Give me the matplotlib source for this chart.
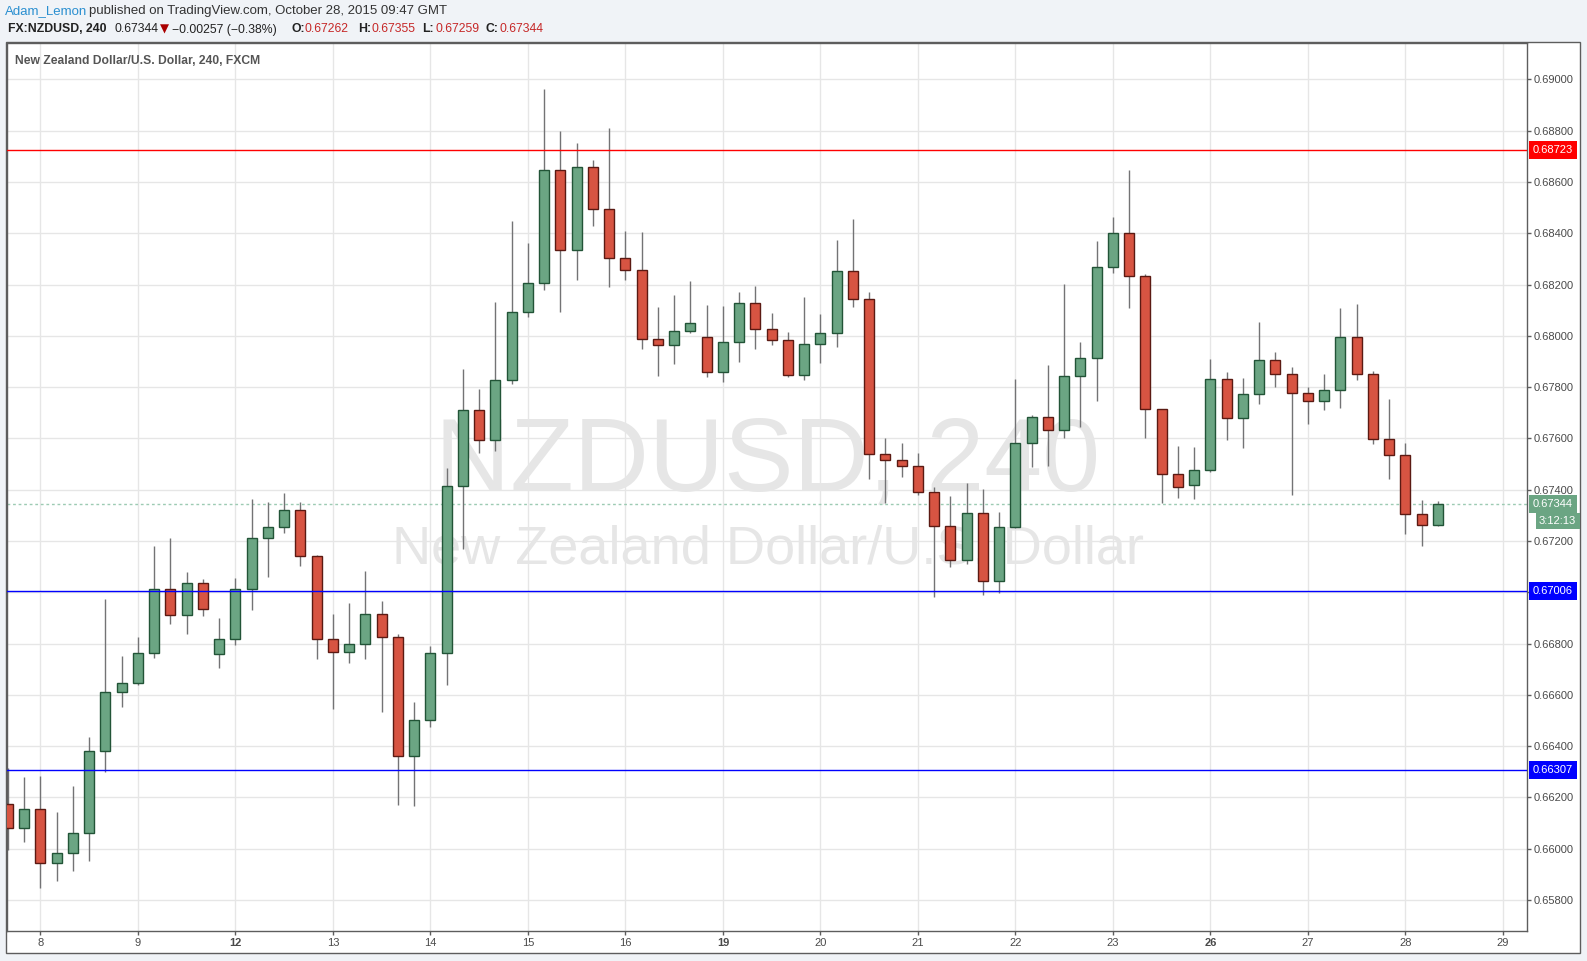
import matplotlib
matplotlib.use('Agg')
import matplotlib.pyplot as plt
import matplotlib.transforms as mtransforms
from matplotlib.patches import Rectangle

W, H = 1587, 961

# 4h candles, FX:NZDUSD, Oct 7 - Oct 28 2015
opens = [0.66173, 0.66080, 0.66154, 0.65943, 0.65982, 0.66060, 0.66380, 0.66610, 0.66645, 0.66762,
         0.67012, 0.66910, 0.67035, 0.66758, 0.66817, 0.67012, 0.67210, 0.67253, 0.67320, 0.67140,
         0.66817, 0.66766, 0.66797, 0.66914, 0.66825, 0.66361, 0.66501, 0.66762, 0.67413, 0.67710,
         0.67593, 0.67826, 0.68092, 0.68205, 0.68645, 0.68333, 0.68657, 0.68493, 0.68302, 0.68256,
         0.67986, 0.67963, 0.68018, 0.67994, 0.67858, 0.67975, 0.68127, 0.68025, 0.67982, 0.67846,
         0.67967, 0.68010, 0.68251, 0.68142, 0.67538, 0.67515, 0.67491, 0.67390, 0.67257, 0.67125,
         0.67308, 0.67043, 0.67253, 0.67581, 0.67682, 0.67632, 0.67842, 0.67912, 0.68267, 0.68400,
         0.68232, 0.67713, 0.67460, 0.67417, 0.67476, 0.67830, 0.67678, 0.67772, 0.67904, 0.67850,
         0.67776, 0.67745, 0.67788, 0.67994, 0.67850, 0.67596, 0.67534, 0.67304, 0.67262]
highs = [0.66315, 0.66280, 0.66284, 0.66143, 0.66245, 0.66436, 0.66974, 0.66752, 0.66826, 0.67180,
         0.67210, 0.67080, 0.67052, 0.66900, 0.67056, 0.67364, 0.67351, 0.67387, 0.67351, 0.67144,
         0.66915, 0.66958, 0.67083, 0.66966, 0.66836, 0.66572, 0.66791, 0.67485, 0.67871, 0.67792,
         0.68132, 0.68448, 0.68362, 0.68961, 0.68799, 0.68751, 0.68685, 0.68811, 0.68408, 0.68405,
         0.68112, 0.68159, 0.68214, 0.68120, 0.68116, 0.68171, 0.68194, 0.68089, 0.68014, 0.68151,
         0.68085, 0.68373, 0.68455, 0.68171, 0.67602, 0.67582, 0.67542, 0.67409, 0.67377, 0.67426,
         0.67403, 0.67313, 0.67832, 0.67691, 0.67886, 0.68202, 0.67976, 0.68370, 0.68463, 0.68646,
         0.68240, 0.67713, 0.67570, 0.67566, 0.67910, 0.67859, 0.67835, 0.68054, 0.67937, 0.67877,
         0.67800, 0.67851, 0.68108, 0.68124, 0.67863, 0.67754, 0.67582, 0.67360, 0.67355]
lows = [0.65995, 0.66028, 0.65848, 0.65876, 0.65915, 0.65954, 0.66300, 0.66554, 0.66640, 0.66745,
        0.66878, 0.66839, 0.66909, 0.66706, 0.66796, 0.66932, 0.67061, 0.67232, 0.67104, 0.66741,
        0.66546, 0.66726, 0.66741, 0.66535, 0.66172, 0.66168, 0.66476, 0.66640, 0.67170, 0.67544,
        0.67550, 0.67814, 0.68075, 0.68180, 0.68092, 0.68218, 0.68429, 0.68191, 0.68218, 0.67950,
        0.67844, 0.67891, 0.68012, 0.67841, 0.67821, 0.67899, 0.67950, 0.67965, 0.67841, 0.67829,
        0.67895, 0.67958, 0.68113, 0.67441, 0.67349, 0.67448, 0.67378, 0.66980, 0.67100, 0.67109,
        0.66988, 0.66996, 0.67250, 0.67490, 0.67494, 0.67603, 0.67646, 0.67747, 0.68244, 0.68110,
        0.67603, 0.67347, 0.67369, 0.67365, 0.67470, 0.67595, 0.67564, 0.67735, 0.67802, 0.67380,
        0.67657, 0.67712, 0.67720, 0.67829, 0.67579, 0.67443, 0.67228, 0.67182, 0.67259]
closes = [0.66080, 0.66154, 0.65943, 0.65982, 0.66060, 0.66380, 0.66610, 0.66645, 0.66762, 0.67012,
          0.66910, 0.67035, 0.66934, 0.66817, 0.67012, 0.67210, 0.67253, 0.67320, 0.67140, 0.66817,
          0.66766, 0.66797, 0.66914, 0.66825, 0.66361, 0.66501, 0.66762, 0.67413, 0.67710, 0.67593,
          0.67826, 0.68092, 0.68205, 0.68645, 0.68333, 0.68657, 0.68493, 0.68302, 0.68256, 0.67986,
          0.67963, 0.68018, 0.68049, 0.67858, 0.67975, 0.68127, 0.68025, 0.67982, 0.67846, 0.67967,
          0.68010, 0.68251, 0.68142, 0.67538, 0.67515, 0.67491, 0.67390, 0.67257, 0.67125, 0.67308,
          0.67043, 0.67253, 0.67581, 0.67682, 0.67632, 0.67842, 0.67912, 0.68267, 0.68400, 0.68232,
          0.67713, 0.67460, 0.67409, 0.67476, 0.67830, 0.67678, 0.67772, 0.67904, 0.67850, 0.67776,
          0.67745, 0.67788, 0.67994, 0.67850, 0.67596, 0.67534, 0.67304, 0.67262, 0.67344]

day_pos = [2, 8, 14, 20, 26, 32, 38, 44, 50, 56, 62, 68, 74, 80, 86, 92]
day_labels = ['8', '9', '12', '13', '14', '15', '16', '19', '20', '21', '22', '23', '26', '27', '28', '29']
week_starts = ['12', '19', '26']

price_ticks = [0.658, 0.660, 0.662, 0.664, 0.666, 0.668, 0.670, 0.672, 0.674, 0.676,
               0.678, 0.680, 0.682, 0.684, 0.686, 0.688, 0.690]

levels = [0.68723, 0.67006, 0.66307]
level_colors = ['#ff0000', '#0000ff', '#0000ff']
countdown = '3:12:13'
change_text = '\u22120.00257 (\u22120.38%)'

UP, DOWN = '#6ba583', '#d75442'
UP_EDGE, DOWN_EDGE = '#225437', '#5b1a13'
FONT = ['Liberation Sans', 'DejaVu Sans']
plt.rcParams['font.family'] = FONT

fig = plt.figure(figsize=(W / 100, H / 100), dpi=100, facecolor='#f0f3f7')

def fx(x): return x / W
def fy(y): return 1 - y / H

# white chart panel behind everything
fig.patches.append(Rectangle((fx(6), fy(953)), (1580 - 6) / W, (953 - 42) / H,
                             transform=fig.transFigure, facecolor='white',
                             edgecolor='#5d5d5d', lw=1, zorder=-5))

ax = fig.add_axes([fx(7), fy(931), (1527 - 7) / W, (931 - 42.5) / H])
ax.set_facecolor('white')
ax.set_xlim(-0.055, 93.48)
ax.set_ylim(0.656795, 0.691435)

for s in ax.spines.values():
    s.set_color('#5d5d5d')
    s.set_linewidth(1)

ax.yaxis.tick_right()
ax.set_yticks(price_ticks, [f'{p:.5f}' for p in price_ticks])
ax.set_xticks(day_pos, day_labels)
ax.tick_params(axis='both', colors='#5d5d5d', length=3, width=1, labelsize=8, labelcolor='#4a4a4a')
ax.tick_params(axis='y', pad=2)
ax.tick_params(axis='x', pad=2)
for lab in ax.get_xticklabels():
    if lab.get_text() in week_starts:
        lab.set_fontweight('bold')
ax.grid(True, color='#e6e6e6', lw=1)
ax.set_axisbelow(True)

# watermark
ax.text(fx(768), fy(491), 'NZDUSD, 240', transform=fig.transFigure, fontsize=75,
        color='#e6e6e6', ha='center', va='baseline', zorder=1)
ax.text(fx(768), fy(563), 'New Zealand Dollar/U.S. Dollar', transform=fig.transFigure,
        fontsize=39, color='#e6e6e6', ha='center', va='baseline', zorder=1)

# candles
idx = list(range(len(opens)))
bottoms = [min(o, c) for o, c in zip(opens, closes)]
heights = [max(abs(c - o), 0.00002) for o, c in zip(opens, closes)]
fills = [UP if c >= o else DOWN for o, c in zip(opens, closes)]
edges = [UP_EDGE if c >= o else DOWN_EDGE for o, c in zip(opens, closes)]
ax.vlines(idx, lows, highs, color='#737375', lw=1, zorder=2)
ax.bar(idx, heights, bottom=bottoms, width=0.62, color=fills, edgecolor=edges, linewidth=1, zorder=3)

# horizontal levels with price tags
trans = mtransforms.blended_transform_factory(ax.transAxes, ax.transData)
tag = mtransforms.offset_copy(trans, fig=fig, x=6, y=0, units='dots')
for lv, col in zip(levels, level_colors):
    ax.axhline(lv, color=col, lw=1, zorder=4)
    ax.text(1.0, lv, f'{lv:.5f}', transform=tag, color='white', fontsize=8, va='center', ha='left',
            clip_on=False, zorder=10,
            bbox=dict(boxstyle='square,pad=0.35', fc=col, ec='none'))

last = closes[-1]
ax.axhline(last, color='#9dcbb3', lw=1, ls=(0, (2, 2)), zorder=1.5)
ax.text(1.0, last, f'{last:.5f}', transform=tag, color='white', fontsize=8, va='center', ha='left',
        clip_on=False, zorder=10, bbox=dict(boxstyle='square,pad=0.35', fc=UP, ec='none'))
cd = mtransforms.offset_copy(trans, fig=fig, x=12, y=-17, units='dots')
ax.text(1.0, last, countdown, transform=cd, color='white', fontsize=8, va='center', ha='left',
        clip_on=False, zorder=10, bbox=dict(boxstyle='square,pad=0.3', fc=UP, ec='none'))

# titles
fig.text(fx(15), fy(60.5), 'New Zealand Dollar/U.S. Dollar, 240, FXCM', fontsize=8.7,
         fontweight='bold', color='#555555', va='center')

fig.text(fx(5), fy(11), 'Adam_Lemon', fontsize=9.5, color='#2a8fd0', va='center')
fig.text(fx(89), fy(11), 'published on TradingView.com, October 28, 2015 09:47 GMT',
         fontsize=9.5, color='#333333', va='center')

y2 = fy(29.5)
fig.text(fx(7.5), y2, 'FX:NZDUSD, 240', fontsize=8.8, fontweight='bold', color='#222222', va='center')
fig.text(fx(114), y2, f'{last:.5f}', fontsize=8.8, color='#222222', va='center')
fig.text(fx(160), y2, '\u25bc', fontsize=8.5, color='#aa0000', va='center', family=['DejaVu Sans'])
fig.text(fx(172), y2, change_text, fontsize=8.8, color='#222222', va='center')
ohlc = [('O:', opens[-1], 291), ('H:', highs[-1], 358), ('L:', lows[-1], 422), ('C:', closes[-1], 486)]
for name, val, x in ohlc:
    fig.text(fx(x), y2, name, fontsize=8.8, fontweight='bold', color='#222222', va='center')
    fig.text(fx(x + 13.5), y2, f'{val:.5f}', fontsize=8.8, color='#c62828', va='center')

fig.savefig('out.png', dpi=100, facecolor=fig.get_facecolor())
